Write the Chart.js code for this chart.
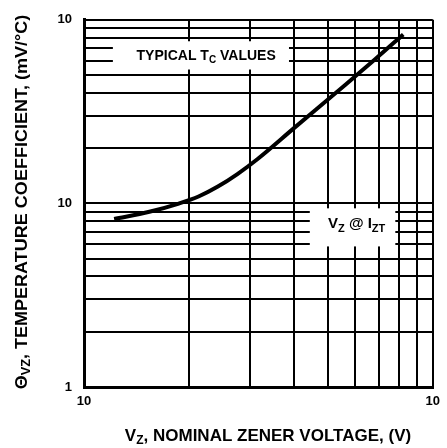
<!DOCTYPE html>
<html lang="en">
<head>
  <meta charset="UTF-8" />
  <title>Typical Tc Values</title>
  <script src="https://cdn.jsdelivr.net/npm/chart.js"></script>
  <style>
    body { margin: 0; background: #fff; }
    canvas { display: block; }
  </style>
</head>
<body>
  <canvas id="tcChart" width="447" height="448"></canvas>

  <script>
    // curve (Vz in volts, Tc in mV/°C)
    const zenerVoltage = [12.2, 15.4, 18.7, 21.3, 24.2, 27.6, 31.4, 40.0, 56.4, 68.6, 82.3]
    const tempCoeff = [8.22, 9.0, 9.98, 10.9, 12.35, 14.5, 17.4, 25.7, 44.6, 61.3, 83.2]

    // grid lines: every 1-2-3...9 step of each decade
    const xGridValues = [10, 20, 30, 40, 50, 60, 70, 80, 90, 100]
    const yGridValues = [1, 2, 3, 4, 5, 6, 7, 8, 9, 10, 20, 30, 40, 50, 60, 70, 80, 90, 100]

    const xTickValues = [10, 100]
    const xTickLabels = ['10', '10']
    const yTickValues = [1, 10, 100]
    const yTickLabels = ['1', '10', '10']

    const FONT = '"Liberation Sans", Arial, sans-serif'

    function labelFor(values, labels) {
      return v => {
        const i = values.findIndex(t => Math.abs(t - v) < 1e-6 * t)
        return i >= 0 ? labels[i] : ''
      }
    }

    // text with subscripts: parts = [[text, isSub], ...], squeeze < 1 narrows it
    function drawRich(ctx, parts, x, y, size, squeeze) {
      const fontOf = p => `bold ${p[1] ? Math.round(size * 0.72) : size}px ${FONT}`
      let w = 0
      parts.forEach(p => { ctx.font = fontOf(p); w += ctx.measureText(p[0]).width })
      ctx.save()
      ctx.translate(x, y)
      ctx.scale(squeeze, 1)
      let cx = -w / 2
      ctx.textAlign = 'left'
      ctx.textBaseline = 'middle'
      parts.forEach(p => {
        ctx.font = fontOf(p)
        ctx.fillText(p[0], cx, p[1] ? size * 0.3 : 0)
        cx += ctx.measureText(p[0]).width
      })
      ctx.restore()
    }

    const labelBoxes = {
      id: 'labelBoxes',
      beforeDatasetsDraw(chart) {
        const { ctx, scales: { x, y } } = chart
        const boxes = [
          { x0: 12.1, x1: 38.7, y0: 76.4, y1: 53.6, tx: 22.4, ty: 63.5, size: 14, squeeze: 1.0,
            parts: [['TYPICAL T', false], ['C', true], [' VALUES', false]] },
          { x0: 44.4, x1: 78.1, y0: 9.4, y1: 5.83, tx: 60.5, ty: 7.7, size: 15, squeeze: 1.0,
            parts: [['V', false], ['Z', true], [' @ I', false], ['ZT', true]] }
        ]
        ctx.save()
        boxes.forEach(b => {
          const l = x.getPixelForValue(b.x0), r = x.getPixelForValue(b.x1)
          const t = y.getPixelForValue(b.y0), btm = y.getPixelForValue(b.y1)
          ctx.fillStyle = '#fff'
          ctx.fillRect(l, t, r - l, btm - t)
          ctx.fillStyle = '#000'
          drawRich(ctx, b.parts, x.getPixelForValue(b.tx), y.getPixelForValue(b.ty), b.size, b.squeeze)
        })
        ctx.restore()
      },
      afterDraw(chart) {
        const { ctx } = chart
        ctx.save()
        ctx.fillStyle = '#000'
        // x axis title
        drawRich(ctx, [['V', false], ['Z', true], [', NOMINAL ZENER VOLTAGE, (V)', false]],
          268, 436, 17, 1.0)
        // y axis title
        ctx.translate(22, 202)
        ctx.rotate(-Math.PI / 2)
        drawRich(ctx, [['\u0398', false], ['VZ', true], [', TEMPERATURE COEFFICIENT, (mV/\u00B0C)', false]],
          0, 0, 17, 1.06)
        ctx.restore()
      }
    }

    new Chart(document.getElementById('tcChart'), {
      type: 'line',
      data: {
        datasets: [{
          data: zenerVoltage.map((v, i) => ({ x: v, y: tempCoeff[i] })),
          borderColor: '#000',
          borderWidth: 4,
          pointRadius: 0,
          cubicInterpolationMode: 'monotone',
          fill: false
        }]
      },
      plugins: [labelBoxes],
      options: {
        responsive: false,
        animation: false,
        layout: { padding: { left: 0, right: 9, top: 11, bottom: 0 } },
        plugins: { legend: { display: false }, tooltip: { enabled: false } },
        scales: {
          x: {
            type: 'logarithmic',
            min: 10,
            max: 100,
            afterBuildTicks: s => { s.ticks = xGridValues.map(v => ({ value: v })) },
            afterFit: s => { s.height = 61 },
            grid: { color: '#000', lineWidth: 2, drawTicks: false },
            border: { color: '#000', width: 3 },
            ticks: {
              autoSkip: false,
              maxRotation: 0,
              padding: 7,
              color: '#000',
              font: { family: FONT, size: 13, weight: 'bold' },
              callback: labelFor(xTickValues, xTickLabels)
            }
          },
          y: {
            type: 'logarithmic',
            min: 1,
            max: 100,
            afterBuildTicks: s => { s.ticks = yGridValues.map(v => ({ value: v })) },
            afterFit: s => { s.width = 84 },
            grid: { color: '#000', lineWidth: 2, drawTicks: false },
            border: { color: '#000', width: 3 },
            ticks: {
              autoSkip: false,
              padding: 12,
              color: '#000',
              font: { family: FONT, size: 13, weight: 'bold' },
              callback: labelFor(yTickValues, yTickLabels)
            }
          }
        }
      }
    })
  </script>
</body>
</html>
